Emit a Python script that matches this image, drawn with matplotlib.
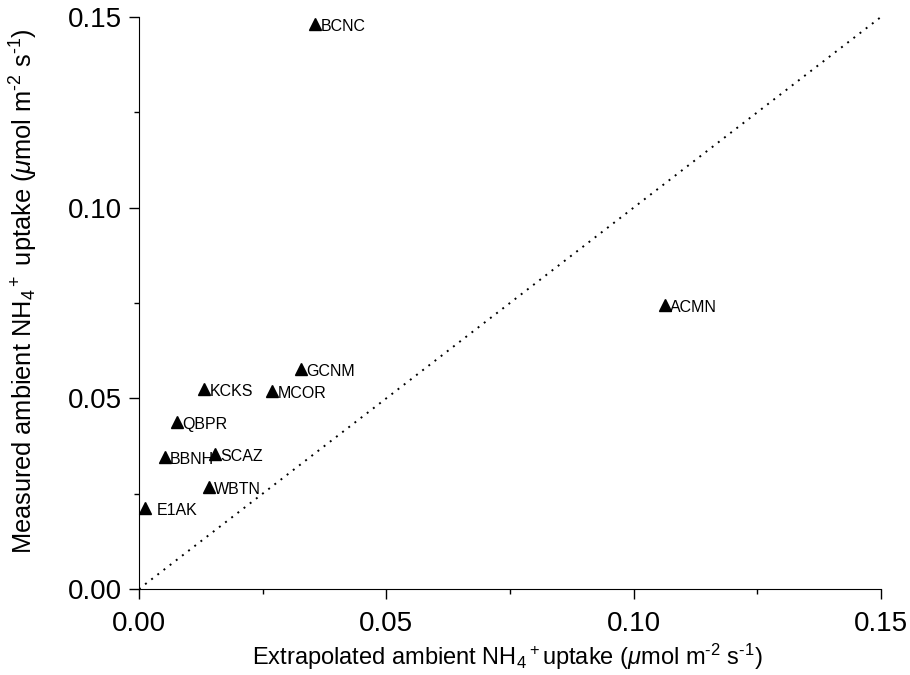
import matplotlib as mpl
mpl.use("Agg")
import matplotlib.pyplot as plt
from matplotlib.ticker import MultipleLocator, FormatStrFormatter

plt.rcParams['font.family'] = ['Liberation Sans', 'DejaVu Sans']
plt.rcParams['mathtext.fontset'] = 'custom'
plt.rcParams['mathtext.rm'] = 'Liberation Sans'
plt.rcParams['mathtext.it'] = 'Liberation Sans:italic'
plt.rcParams['mathtext.bf'] = 'Liberation Sans:bold'

sites = ["BCNC", "ACMN", "GCNM", "KCKS", "MCOR", "QBPR",
         "BBNH", "SCAZ", "WBTN", "E1AK"]
extrapolated = [0.0356, 0.1063, 0.0327, 0.0131, 0.0269, 0.0076,
                0.0052, 0.0153, 0.0141, 0.0013]
measured = [0.1482, 0.0745, 0.0576, 0.0524, 0.0519, 0.0439,
            0.0345, 0.0354, 0.0267, 0.0212]

fig = plt.figure(figsize=(9.1, 6.75), dpi=100)
ax = fig.add_axes([0.1527, 0.1274, 0.8153, 0.8474])

ax.plot(extrapolated, measured, "k^", markersize=8, clip_on=False)
for name, x, y in zip(sites, extrapolated, measured):
    dx = 8 if name == "E1AK" else 4
    ax.annotate(name, (x, y), xytext=(dx, -5), textcoords="offset points",
                fontsize=11.5)

# 1:1 line
ax.plot([0, 0.15], [0, 0.15], "k", linestyle=(0, (1, 3)), linewidth=1.4)

ax.set_xlim(0, 0.15)
ax.set_ylim(0, 0.15)
for a in (ax.xaxis, ax.yaxis):
    a.set_major_locator(MultipleLocator(0.05))
    a.set_minor_locator(MultipleLocator(0.025))
    a.set_major_formatter(FormatStrFormatter("%.2f"))
ax.tick_params(which="major", direction="out", length=7, width=1,
               labelsize=20)
ax.tick_params(axis="y", which="major", pad=5)
ax.tick_params(axis="x", which="major", pad=9)
ax.tick_params(which="minor", direction="out", length=3.5, width=1)
ax.spines["top"].set_visible(False)
ax.spines["right"].set_visible(False)

ax.set_xlabel(r"Extrapolated ambient NH$_4$$^+$uptake ($\mathit{\mu}$mol m$^{\text{-2}}$ s$^{\text{-1}}$)",
              fontsize=17)
ax.set_ylabel(r"Measured ambient NH$_4$$^+$ uptake ($\mathit{\mu}$mol m$^{\text{-2}}$ s$^{\text{-1}}$)",
              fontsize=18.3)
ax.xaxis.set_label_coords(0.497, -0.133)
ax.xaxis.label.set_verticalalignment("baseline")
ax.yaxis.set_label_coords(-0.143, 0.521)
ax.yaxis.label.set_verticalalignment("baseline")

fig.savefig("out.png")
